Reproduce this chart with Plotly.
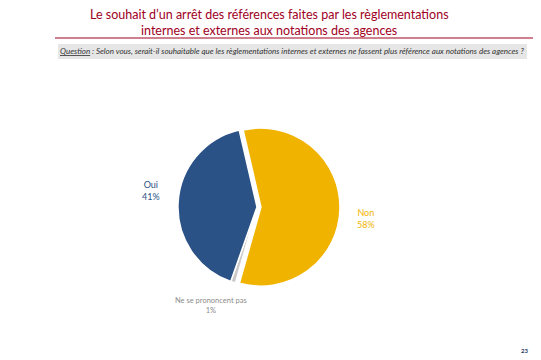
import plotly.graph_objects as go

labels = ["Non", "Ne se prononcent pas", "Oui"]
values = [58, 1, 41]
colors = ["#F0B400", "#C9C9C9", "#2B5286"]
label_colors = ["#F0B400", "#8C8C8C", "#2B5286"]
pull = [0.05, 0, 0]

# page body has an 8px default margin: work in reference pixels, offset by 8
OFF = 8
W, H = 541 - OFF, 360 - OFF


def px(x, y):
    return (x - OFF) / W, 1 - (y - OFF) / H


fig = go.Figure()
dx0, _ = px(172, 0)
dx1, _ = px(342, 0)
_, dy1 = px(0, 124)
_, dy0 = px(0, 290)
fig.add_trace(go.Pie(
    labels=labels, values=values, sort=False, direction="clockwise",
    rotation=-13, pull=pull, textinfo="none", hoverinfo="label+percent",
    marker=dict(colors=colors, line=dict(color="white", width=1.5)),
    domain=dict(x=[dx0, dx1], y=[dy0, dy1]),
    showlegend=False,
))

annos = []
for txt, y in [("Le souhait d’un arrêt des références faites par les règlementations", 14),
               ("internes et externes aux notations des agences", 30)]:
    x0, y0 = px(269, y)
    annos.append(dict(x=x0, y=y0, xref="paper", yref="paper", text=txt, showarrow=False,
                      font=dict(family="Lato", size=12.5, color="#A0001E"),
                      xanchor="center", yanchor="middle"))
x0, y0 = px(292, 51)
annos.append(dict(x=x0, y=y0, xref="paper", yref="paper",
                  text="<i><u>Question</u> : Selon vous, serait-il souhaitable que les règlementations internes et externes ne fassent plus référence aux notations des agences ?</i>",
                  showarrow=False, font=dict(family="Lato", size=8, color="#333333"),
                  xanchor="center", yanchor="middle"))
pos = {"Oui": (151, 190), "Non": (366, 218), "Ne se prononcent pas": (211, 305)}
for lab, val, col in zip(labels, values, label_colors):
    x, y = pos[lab]
    x0, y0 = px(x, y)
    fs = 9 if lab != "Ne se prononcent pas" else 7.5
    annos.append(dict(x=x0, y=y0, xref="paper", yref="paper",
                      text=f"{lab}<br>{val}%", showarrow=False,
                      font=dict(family="Lato", size=fs, color=col),
                      xanchor="center", yanchor="middle", align="center"))
x0, y0 = px(524, 350)
annos.append(dict(x=x0, y=y0, xref="paper", yref="paper", text="<b>23</b>", showarrow=False,
                  font=dict(family="Lato", size=6, color="#1F3864"),
                  xanchor="center", yanchor="middle"))

lx0, ly = px(55, 38)
lx1, _ = px(540, 38)
rx0, ry0 = px(58, 59)
rx1, ry1 = px(527, 44)
shapes = [
    dict(type="line", xref="paper", yref="paper", x0=lx0, x1=min(lx1, 1),
         y0=ly, y1=ly, line=dict(color="#A0001E", width=1.2)),
    dict(type="rect", xref="paper", yref="paper", x0=rx0, x1=rx1,
         y0=ry0, y1=ry1, line=dict(width=0), fillcolor="#E6E6E6", layer="below"),
]

fig.update_layout(width=W, height=H, margin=dict(l=0, r=0, t=0, b=0),
                  paper_bgcolor="white", plot_bgcolor="white",
                  annotations=annos, shapes=shapes)
fig.write_html("out.html")
